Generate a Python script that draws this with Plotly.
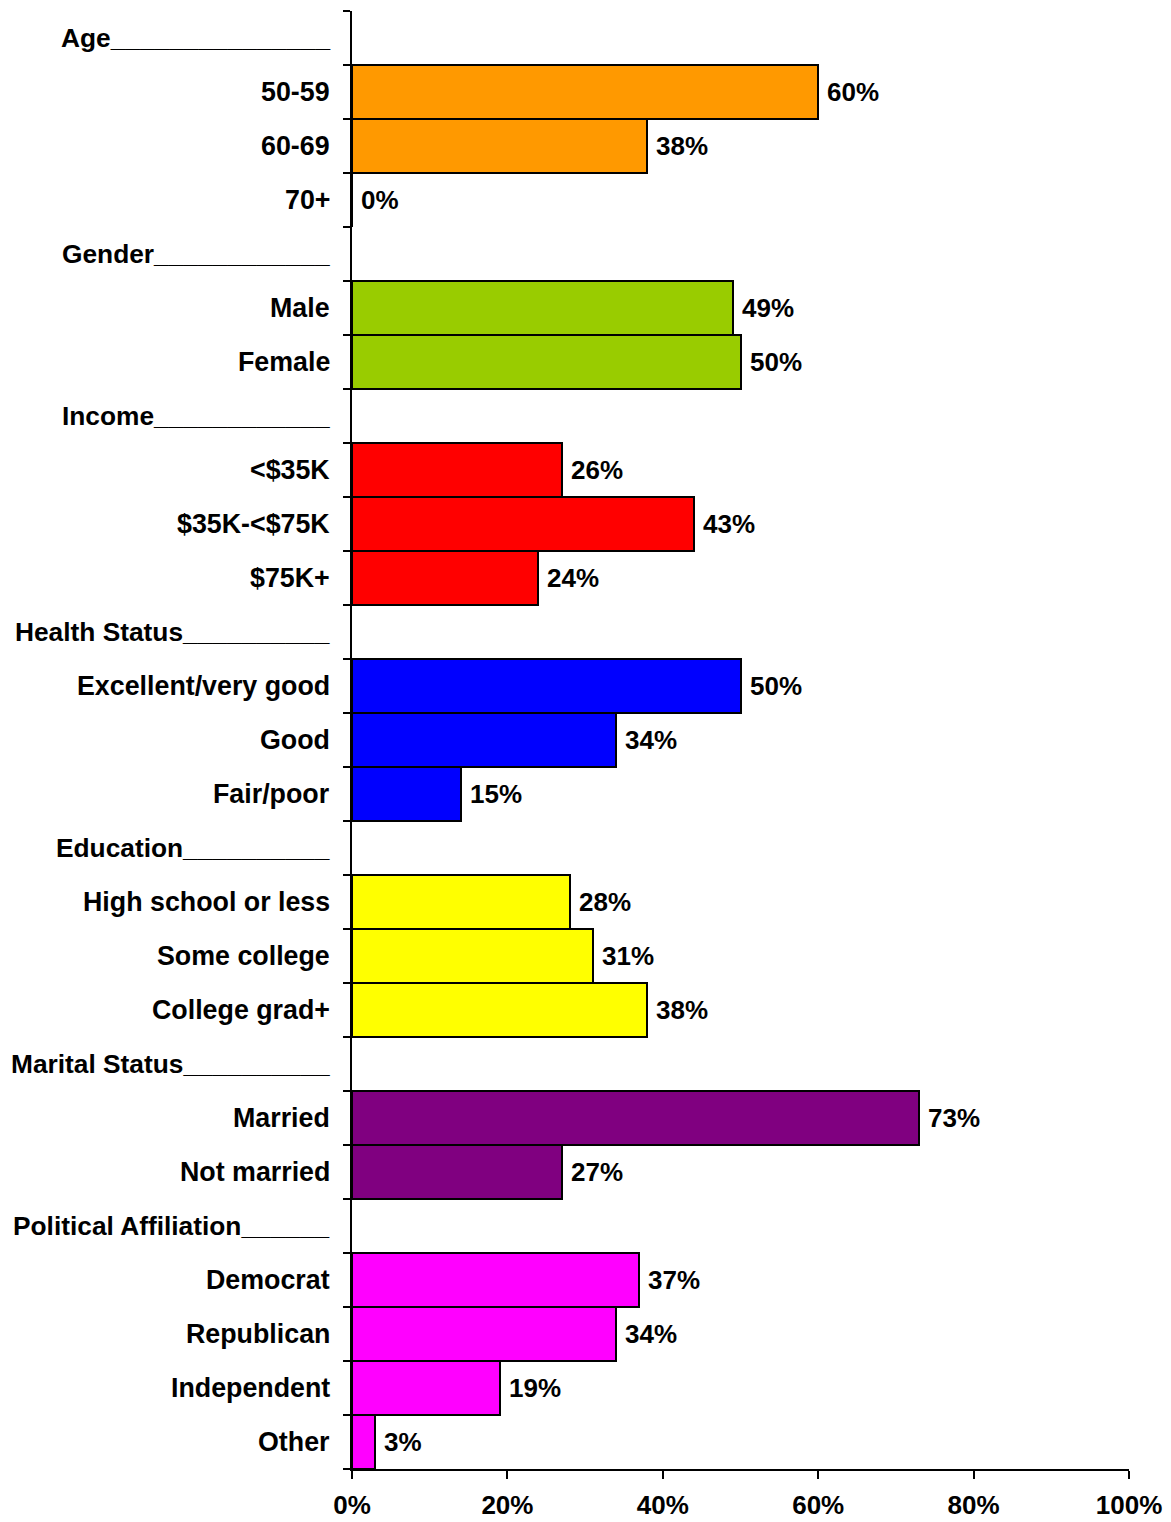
import plotly.graph_objects as go

# ---- data ----
groups = ["Age", "Gender", "Income", "Health Status", "Education",
          "Marital Status", "Political Affiliation"]
header_underscores = [15, 12, 12, 10, 10, 10, 6]
items = [
    ["50-59", "60-69", "70+"],
    ["Male", "Female"],
    ["<$35K", "$35K-<$75K", "$75K+"],
    ["Excellent/very good", "Good", "Fair/poor"],
    ["High school or less", "Some college", "College grad+"],
    ["Married", "Not married"],
    ["Democrat", "Republican", "Independent", "Other"],
]
values = [
    [60, 38, 0],
    [49, 50],
    [27, 44, 24],
    [50, 34, 14],
    [28, 31, 38],
    [73, 27],
    [37, 34, 19, 3],
]
value_labels = [
    ["60%", "38%", "0%"],
    ["49%", "50%"],
    ["26%", "43%", "24%"],
    ["50%", "34%", "15%"],
    ["28%", "31%", "38%"],
    ["73%", "27%"],
    ["37%", "34%", "19%", "3%"],
]
colors = ["#FF9900", "#99CC00", "#FF0000", "#0000FF", "#FFFF00", "#800080", "#FF00FF"]
x_ticks = [0, 20, 40, 60, 80, 100]
x_ticktext = ["0%", "20%", "40%", "60%", "80%", "100%"]

FONT = "Liberation Sans, Arial, sans-serif"
FS = 26
FS_CAT = 26.8
FS_HEAD = 26.3

fig = go.Figure()
annotations = []
row = 0
for g, n_us, its, vals, labs, col in zip(groups, header_underscores, items, values,
                                         value_labels, colors):
    annotations.append(dict(
        x=0, xref="paper", y=row, yref="y", text=g + "_" * n_us,
        xanchor="right", yanchor="middle", xshift=-20, showarrow=False,
        font=dict(family=FONT, size=FS_HEAD, color="black", weight="bold")))
    row += 1
    ys = list(range(row, row + len(its)))
    fig.add_trace(go.Bar(
        x=vals, y=ys, orientation="h", width=1,
        marker=dict(color=col, line=dict(color="black", width=2)),
        showlegend=False, hoverinfo="skip"))
    for y, it, v, lab in zip(ys, its, vals, labs):
        annotations.append(dict(
            x=0, xref="paper", y=y, yref="y", text=it,
            xanchor="right", yanchor="middle", xshift=-20, showarrow=False,
            font=dict(family=FONT, size=FS_CAT, color="black", weight="bold")))
        annotations.append(dict(
            x=v, xref="x", y=y, yref="y", text=lab,
            xanchor="left", yanchor="middle", xshift=7, showarrow=False,
            font=dict(family=FONT, size=FS, color="black", weight="bold")))
    row += len(its)

n_rows = row

fig.update_layout(
    width=1163, height=1514,
    margin=dict(l=344, r=42, t=3, b=53, autoexpand=False),
    paper_bgcolor="white", plot_bgcolor="white",
    bargap=0,
    annotations=annotations,
    xaxis=dict(
        range=[0, 100], tickvals=x_ticks, ticktext=x_ticktext,
        ticks="outside", ticklen=8, tickwidth=2, tickcolor="black",
        showline=True, linewidth=2, linecolor="black",
        showgrid=False, zeroline=False, ticklabelstandoff=4,
        automargin=False,
        tickfont=dict(family=FONT, size=FS, color="black", weight="bold"),
    ),
    yaxis=dict(
        range=[n_rows - 0.5, -0.5],
        tickvals=[i - 0.5 for i in range(n_rows + 1)],
        showticklabels=False, automargin=False,
        ticks="outside", ticklen=7, tickwidth=2, tickcolor="black",
        showline=True, linewidth=2, linecolor="black",
        showgrid=False, zeroline=False,
    ),
)

fig.write_html("out.html")
